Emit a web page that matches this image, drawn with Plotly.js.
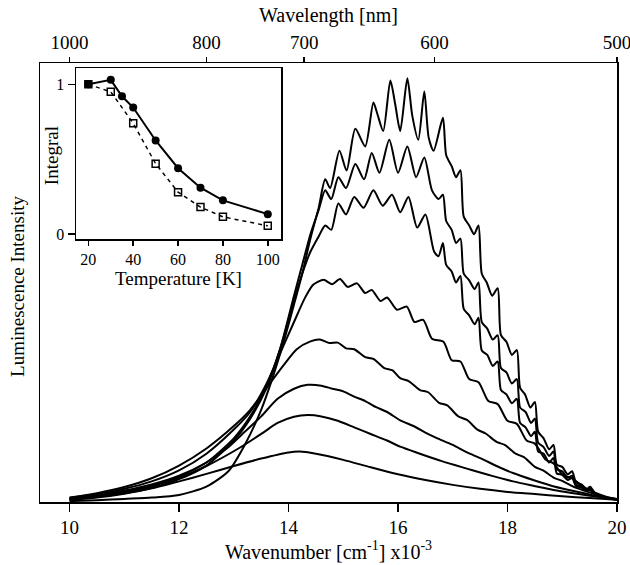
<!DOCTYPE html>
<html>
<head>
<meta charset="utf-8">
<script src="https://cdn.plot.ly/plotly-3.0.1.min.js"></script>
<style>html,body{margin:0;padding:0;background:#fff;}#chart{width:630px;height:565px;}</style>
</head>
<body>
<div id="chart"></div>
<script>
// ---- main spectra (wavenumber x10^-3 cm^-1, intensity in % of frame height) ----
const xA = [10,10.5,11,11.5,12,12.5,12.9,13.2,13.5,13.7,13.9,14.1,14.25,14.4,14.55,14.67,14.76,14.93,15.06,15.22,15.4,15.55,15.62,15.73,15.86,15.95,16.04,16.17,16.26,16.37,16.48,16.56,16.65,16.82,16.88,16.98,17.06,17.14,17.2,17.3,17.39,17.47,17.53,17.62,17.72,17.82,17.88,17.98,18.08,18.17,18.23,18.32,18.42,18.5,18.56,18.66,18.76,18.84,18.9,19.0,19.1,19.18,19.25,19.35,19.45,19.51,19.6,19.75,19.9,20];
const yA = [0.2,0.4,0.7,1.0,1.6,3.5,7,13,21,28,36,45,52,60,67,73.5,71.5,80,75.5,85,81,91,88.5,84.5,96,90.5,84.5,96.5,88,82.5,93.5,83,80,87.5,79,76.5,74,75.6,65,63,61,63,52,50,47,48.7,38,36.5,33.5,34.6,26,24.5,21.5,22.8,16,14.5,12,13,8.5,8,6.3,7,4.5,4,3,3.5,2,1.2,0.8,0.6];

const xB = [10,10.5,11,11.5,12,12.5,13,13.3,13.6,13.85,14.1,14.25,14.4,14.55,14.67,14.78,14.91,15.05,15.22,15.38,15.52,15.66,15.84,16.0,16.17,16.33,16.48,16.62,16.74,16.82,16.88,16.98,17.06,17.14,17.2,17.3,17.4,17.47,17.53,17.63,17.73,17.82,17.88,17.98,18.08,18.17,18.23,18.33,18.43,18.5,18.56,18.66,18.76,18.84,18.9,19.0,19.1,19.18,19.25,19.35,19.45,19.51,19.6,19.75,19.9,20];
const yB = [0.6,1.2,2.0,3.2,5.2,8.3,14,19,26,35,47,54,61,66.5,71,69,74,71.5,77,73.5,79.5,75,82.5,75,81,74,78.5,71,69,70,64,62,59,60,52,50.5,48.5,50,41,39.5,37,38,30.5,29.5,27,28,21.5,20.5,18,19,13.5,12.5,10.5,11.5,7.5,7,5.5,6,4,3.6,2.8,3.1,1.8,1.1,0.7,0.5];

const xC = [10,10.5,11,11.5,12,12.5,13,13.3,13.6,13.85,14.1,14.25,14.4,14.55,14.67,14.78,14.91,15.05,15.2,15.37,15.55,15.72,15.89,16.04,16.19,16.35,16.5,16.66,16.74,16.82,16.88,16.98,17.06,17.14,17.2,17.3,17.4,17.47,17.53,17.63,17.73,17.82,17.88,17.98,18.08,18.17,18.23,18.33,18.43,18.5,18.56,18.66,18.76,18.84,18.9,19.0,19.1,19.18,19.25,19.35,19.45,19.51,19.6,19.75,19.9,20];
const yC = [0.7,1.4,2.3,3.6,5.8,9.0,14.5,19.5,26.5,35,46,52,57,60.5,63,62,68,65.5,69.5,67,71,67.5,70,66,69.5,62.5,65.5,57,56,59,54,52.5,50,51.5,44,42.5,40.5,42,34.5,33.5,31,32,25.5,24.5,22.5,23.5,18,17,15,16,11.5,11,9,10,6.5,6.2,5,5.5,3.6,3.3,2.6,2.9,1.7,1.1,0.7,0.5];

const xD = [10,10.5,11,11.5,12,12.5,13,13.3,13.6,13.85,14.1,14.3,14.45,14.64,14.8,14.94,15.08,15.25,15.4,15.52,15.68,15.8,15.98,16.16,16.3,16.46,16.62,16.83,16.98,17.14,17.3,17.47,17.65,17.82,18.0,18.17,18.35,18.5,18.7,18.84,19.0,19.18,19.4,19.6,19.8,20];
const yD = [0.9,1.8,3.0,4.7,7.2,11,16.5,20.5,27,34,41,46.5,49.5,50.6,49.6,50.8,49,49.8,47.6,48.3,45.8,46.6,43.8,44.5,41,41.5,37.2,36.5,32.3,32,28,27.3,23,22.3,18.5,17.8,14,13.3,9.6,8.8,6.3,5.4,3.3,2.1,1.2,0.7];

const xE = [10,10.5,11,11.5,12,12.5,13,13.3,13.6,13.9,14.15,14.4,14.57,14.75,14.9,15.05,15.2,15.4,15.55,15.75,15.9,16.04,16.2,16.4,16.55,16.75,16.9,17.1,17.26,17.45,17.6,17.8,17.95,18.15,18.3,18.5,18.65,18.85,19.0,19.2,19.4,19.6,19.8,20];
const yE = [1.0,2.0,3.4,5.4,8.3,12.2,17.3,21,26,31,34.8,36.6,37,36.2,36.3,35,34.8,33,32.6,30.5,30,28.2,27.5,25.5,25,22.6,22,19.5,18.7,16.5,15.6,13.7,13,11,10.2,8,7.2,5.5,4.8,3.5,2.6,1.8,1.1,0.6];

const xF = [10,10.5,11,11.5,12,12.5,12.9,13.2,13.5,13.8,14.1,14.35,14.6,14.8,15.0,15.2,15.4,15.6,15.8,16.04,16.3,16.5,16.7,17.0,17.26,17.5,17.87,18.1,18.47,18.8,19.1,19.4,19.7,20];
const yF = [0.8,1.5,2.6,4.0,6.0,9.0,12.5,16,19.5,23.5,25.8,26.7,26.5,25.8,25.2,24,23,21.6,20.5,18.6,17.2,15.8,14.6,13,11.3,10,7.8,6.6,5,3.7,2.8,2,1.2,0.6];

const xG = [10,10.5,11,11.5,12,12.5,13.1,13.5,13.8,14.1,14.35,14.6,14.9,15.2,15.5,15.8,16.04,16.4,16.8,17.26,17.7,18.1,18.47,18.9,19.3,19.65,20];
const yG = [0.7,1.3,2.3,3.6,5.5,8.2,12.3,15.5,18,19.4,19.8,19.5,18.5,17,15.5,14,12.6,11,9.3,7.6,6,4.7,3.7,2.6,1.8,1.2,0.6];

const xH = [10,10.5,11,11.5,12,12.5,13,13.5,14,14.2,14.5,15,15.5,16,16.5,17,17.5,18,18.5,19,19.5,20];
const yH = [0.4,1.0,1.9,3.1,4.7,6.4,8.2,9.9,11.3,11.5,11.0,9.6,7.9,6.3,5.0,3.9,3.0,2.3,1.8,1.3,0.9,0.5];

// ---- axis tick labels ----
const wavenumberTicks = [10, 12, 14, 16, 18, 20];
const wavelengthLabels = [1000, 800, 700, 600, 500];

// ---- inset: integrated intensity vs temperature ----
const tempFilled = [20, 30, 35, 40, 50, 60, 70, 80, 100];
const intFilled  = [1.0, 1.03, 0.92, 0.845, 0.625, 0.44, 0.31, 0.225, 0.133];
const tempOpen   = [20, 30, 40, 50, 60, 70, 80, 100];
const intOpen    = [1.0, 0.95, 0.74, 0.47, 0.28, 0.18, 0.115, 0.055];
const insetTempTicks = [20, 40, 60, 80, 100];
const insetIntTicks = [0, 1];

const FONT = 'Liberation Serif, Times New Roman, serif';
const spectra = [[xA,yA],[xB,yB],[xC,yC],[xD,yD],[xE,yE],[xF,yF],[xG,yG],[xH,yH]];

const traces = spectra.map(([x, y]) => ({
  x: x, y: y, type: 'scatter', mode: 'lines', xaxis: 'x', yaxis: 'y',
  line: {color: 'black', width: 2, shape: 'spline', smoothing: 0.7},
  hoverinfo: 'skip', showlegend: false
}));

// helper trace so the top (wavelength) axis is drawn
traces.push({
  x: wavelengthLabels.map(w => 1e4 / w), y: wavelengthLabels.map(() => -10),
  type: 'scatter', mode: 'markers', xaxis: 'x2', yaxis: 'y',
  marker: {size: 1, color: 'rgba(0,0,0,0)'},
  hoverinfo: 'skip', showlegend: false
});

traces.push({
  x: tempOpen, y: intOpen, type: 'scatter', mode: 'lines+markers', xaxis: 'x3', yaxis: 'y3',
  line: {color: 'black', width: 1.5, dash: '4px,4px'},
  marker: {symbol: 'square-open', size: 7, color: 'black', line: {width: 1.5, color: 'black'}},
  showlegend: false, hoverinfo: 'skip'
});
traces.push({
  x: tempFilled, y: intFilled, type: 'scatter', mode: 'lines+markers', xaxis: 'x3', yaxis: 'y3',
  line: {color: 'black', width: 2},
  marker: {symbol: 'circle', size: 8, color: 'black'},
  showlegend: false, hoverinfo: 'skip'
});

const axLine = {showline: true, linecolor: 'black', linewidth: 1.5, showgrid: false, zeroline: false};

const layout = {
  width: 630, height: 565,
  margin: {l: 40, r: 13, t: 63, b: 63},
  paper_bgcolor: 'white', plot_bgcolor: 'white',
  showlegend: false,
  font: {family: FONT, size: 19, color: 'black'},
  xaxis: Object.assign({}, axLine, {
    domain: [0, 1], anchor: 'y', range: [9.46, 20],
    tickmode: 'array', tickvals: wavenumberTicks, ticklabeloverflow: 'allow',
    ticks: 'outside', ticklen: 8, tickwidth: 1.5, tickcolor: 'black',
    tickfont: {family: FONT, size: 19},
    title: {text: 'Wavenumber [cm<sup>-1</sup>] x10<sup>-3</sup>', font: {family: FONT, size: 20}, standoff: 4}
  }),
  xaxis2: Object.assign({}, axLine, {
    overlaying: 'x', side: 'top', anchor: 'y', range: [9.46, 20],
    tickmode: 'array', tickvals: wavelengthLabels.map(w => 1e4 / w), ticktext: wavelengthLabels.map(String),
    ticklabeloverflow: 'allow',
    ticks: 'outside', ticklen: 5, tickwidth: 1.5, tickcolor: 'black',
    tickfont: {family: FONT, size: 19},
    title: {text: 'Wavelength [nm]', font: {family: FONT, size: 20}, standoff: 4}
  }),
  yaxis: Object.assign({}, axLine, {
    domain: [0, 1], anchor: 'x', range: [0, 100], mirror: true,
    showticklabels: false, ticks: ''
  }),
  xaxis3: Object.assign({}, axLine, {
    domain: [0.0624, 0.4177], anchor: 'y3', range: [14.5, 105.9], mirror: true,
    tickmode: 'array', tickvals: insetTempTicks,
    ticks: 'outside', ticklen: 5, tickwidth: 1.5, tickcolor: 'black',
    tickfont: {family: FONT, size: 16},
    title: {text: 'Temperature [K]', font: {family: FONT, size: 19}, standoff: 2}
  }),
  yaxis3: Object.assign({}, axLine, {
    domain: [0.5984, 0.9879], anchor: 'x3', range: [-0.035, 1.107], mirror: true,
    tickmode: 'array', tickvals: insetIntTicks,
    ticks: 'outside', ticklen: 7, tickwidth: 1.5, tickcolor: 'black',
    tickfont: {family: FONT, size: 16}
  }),
  annotations: [{
    text: 'Integral', xref: 'paper', yref: 'paper', x: 0.019, y: 0.79,
    xanchor: 'center', yanchor: 'middle', textangle: -90, showarrow: false,
    font: {family: FONT, size: 19, color: 'black'}
  }, {
    text: 'Luminescence Intensity', xref: 'paper', yref: 'paper', x: -0.038, y: 0.49,
    xanchor: 'center', yanchor: 'middle', textangle: -90, showarrow: false,
    font: {family: FONT, size: 19, color: 'black'}
  }]
};

Plotly.newPlot('chart', traces, layout, {staticPlot: true, displayModeBar: false});
</script>
</body>
</html>
